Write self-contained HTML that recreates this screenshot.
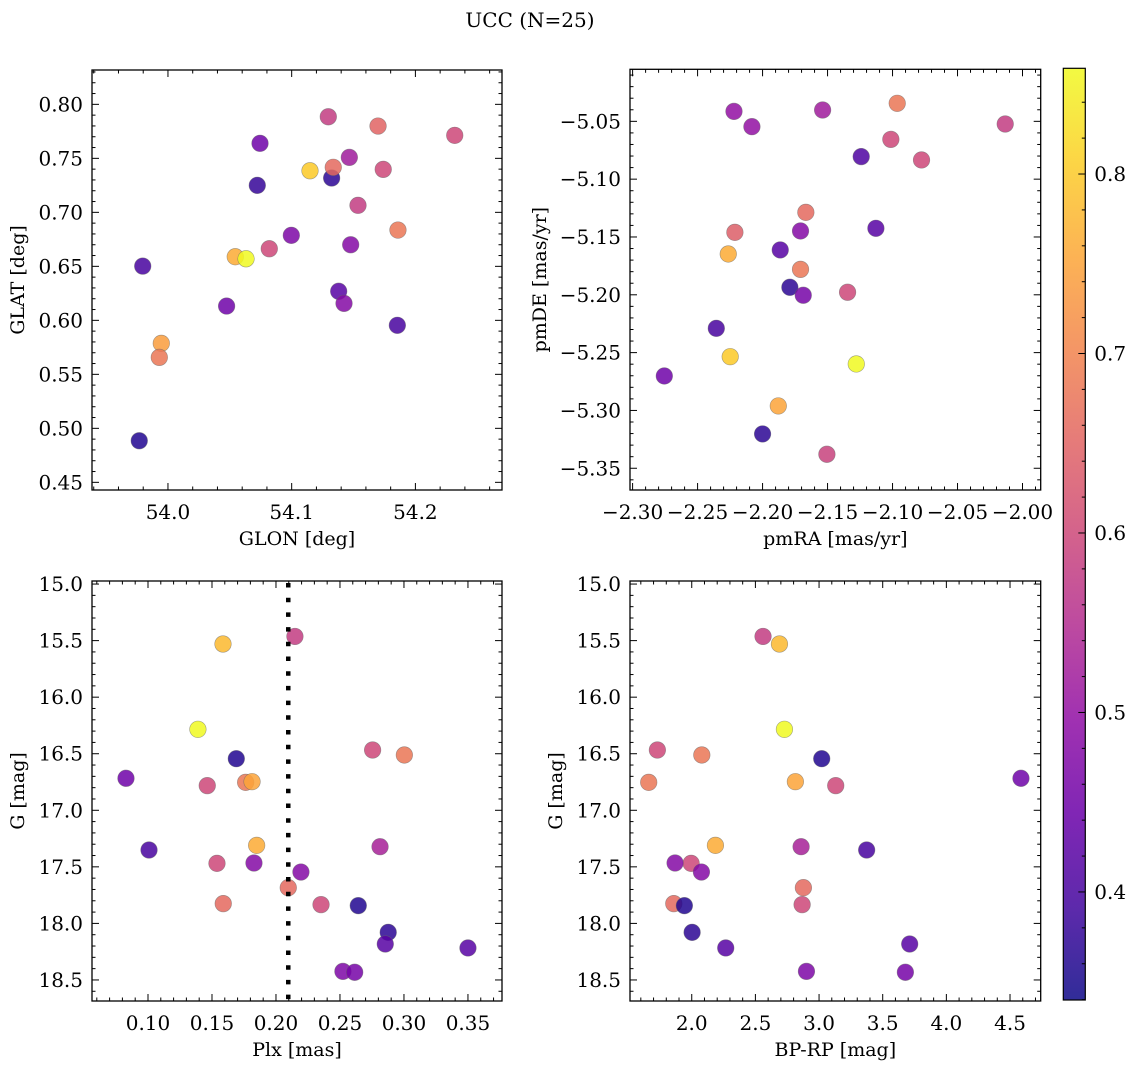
<!DOCTYPE html>
<html><head><meta charset="utf-8"><style>
html,body{margin:0;padding:0;background:#fff;}
svg{display:block;font-family:"DejaVu Serif","Liberation Serif",serif;}
</style></head><body>
<svg id="fig" width="1136" height="1068" viewBox="0 0 1136 1068">
<text x="530" y="27" text-anchor="middle" font-size="20">UCC (N=25)</text>
</svg>
<script>
// ---- data (bottom panels: same stars) ----
const plx  = [0.0828,0.1008,0.139,0.1586,0.1463,0.169,0.1763,0.1813,0.1539,0.1828,0.1849,0.1588,0.2148,0.2096,0.2195,0.2352,0.2643,0.2755,0.3003,0.2813,0.2877,0.2854,0.35,0.2523,0.2615];
const gmag = [16.717,17.351,16.284,15.530,16.782,16.544,16.753,16.747,17.469,17.466,17.31,17.825,15.463,17.684,17.546,17.834,17.843,16.467,16.511,17.322,18.079,18.182,18.217,18.424,18.432];
const bprp = [4.586,3.374,2.728,2.689,3.131,3.021,1.662,2.814,1.995,1.869,2.186,1.859,2.560,2.877,2.076,2.867,1.942,1.730,2.079,2.859,2.003,3.712,2.267,2.901,3.678];
const cBottom = [0.45,0.40,0.86,0.78,0.6,0.36,0.68,0.75,0.6,0.48,0.76,0.66,0.58,0.66,0.48,0.6,0.36,0.6,0.68,0.53,0.37,0.42,0.42,0.47,0.46];
// ---- top-left ----
const glon = [53.9768,53.9796,54.0474,54.0544,54.0631,54.0819,53.9946,53.993,54.0722,54.0744,54.0997,54.1148,54.1296,54.1323,54.1336,54.1466,54.1536,54.1477,54.138,54.1423,54.1698,54.174,54.1859,54.1854,54.2318];
const glat = [0.4885,0.6502,0.6132,0.6589,0.657,0.6663,0.5787,0.5657,0.725,0.7639,0.6787,0.7385,0.7885,0.7318,0.7417,0.7509,0.7065,0.67,0.6269,0.6157,0.7799,0.7398,0.6836,0.5954,0.7713];
const cTL  = [0.36,0.40,0.45,0.76,0.86,0.6,0.74,0.68,0.38,0.45,0.47,0.8,0.58,0.37,0.66,0.52,0.58,0.48,0.42,0.48,0.65,0.6,0.68,0.40,0.6];
// ---- top-right ----
const pmra = [-2.2756,-2.2356,-2.222,-2.2082,-2.2213,-2.2264,-2.2249,-2.1864,-2.179,-2.1708,-2.1667,-2.1708,-2.1687,-2.1879,-2.2,-2.1538,-2.1505,-2.1346,-2.1279,-2.1241,-2.1128,-2.1013,-2.0964,-2.0777,-2.0133];
const pmde = [-5.2702,-5.229,-5.0414,-5.0546,-5.146,-5.1647,-5.2535,-5.1612,-5.1935,-5.1448,-5.1287,-5.178,-5.2004,-5.2961,-5.3203,-5.0402,-5.3379,-5.1978,-5.2598,-5.0805,-5.1425,-5.0656,-5.0344,-5.0834,-5.0523];
const cTR  = [0.45,0.40,0.5,0.5,0.64,0.76,0.8,0.42,0.37,0.48,0.66,0.68,0.46,0.75,0.37,0.52,0.59,0.6,0.86,0.41,0.42,0.6,0.68,0.6,0.58];
const plxLine = 0.2096;
// ---- ticks ----
const tlXTicks = ["54.0","54.1","54.2"];
const tlYTicks = ["0.45","0.50","0.55","0.60","0.65","0.70","0.75","0.80"];
const trXTicks = ["-2.30","-2.25","-2.20","-2.15","-2.10","-2.05","-2.00"];
const trYTicks = ["-5.35","-5.30","-5.25","-5.20","-5.15","-5.10","-5.05"];
const blXTicks = ["0.10","0.15","0.20","0.25","0.30","0.35"];
const gTicks   = ["15.0","15.5","16.0","16.5","17.0","17.5","18.0","18.5"];
const brXTicks = ["2.0","2.5","3.0","3.5","4.0","4.5"];
const cbTicks  = ["0.4","0.5","0.6","0.7","0.8"];
const vmin = 0.3398, vmax = 0.8589;

const NS = "http://www.w3.org/2000/svg";
const svg = document.getElementById("fig");
function mk(tag, attrs, parent){ const e=document.createElementNS(NS,tag); for(const k in attrs) e.setAttribute(k,attrs[k]); (parent||svg).appendChild(e); return e; }
const plasmaStops = ["#0d0887","#41049d","#6a00a8","#8f0da4","#b12a90","#cc4778","#e16462","#f2844b","#fca636","#fcce25","#f0f921"];
function hex(h){return [parseInt(h.slice(1,3),16),parseInt(h.slice(3,5),16),parseInt(h.slice(5,7),16)];}
function plasma(t){ t=Math.max(0,Math.min(1,t)); const f=t*10, i=Math.min(9,Math.floor(f)), r=f-i; const a=hex(plasmaStops[i]), b=hex(plasmaStops[i+1]); return "rgb("+a.map((v,k)=>Math.round(v+(b[k]-v)*r)).join(",")+")"; }
function cmap(v){ return plasma((v-vmin)/(vmax-vmin)); }
const fmt = s => s.replace("-","\u2212");
const TF = 20, LF = 19;

function panel(name, box, xd, yd, xt, yt, xs, ys, cs, xlabel, ylabel){
  const g = mk("g",{},svg);
  
  
  const X = v => box.x0 + (v-xd[0])/(xd[1]-xd[0])*(box.x1-box.x0);
  const Y = v => box.y0 + (v-yd[0])/(yd[1]-yd[0])*(box.y1-box.y0);
  const tg = mk("g",{stroke:"#000","stroke-width":1},g);
  
  
  function axisTicks(labels, isX){
    const vals = labels.map(Number), step = vals[1]-vals[0], ms = step/5;
    const d = isX ? xd : yd, lo=Math.min(d[0],d[1]), hi=Math.max(d[0],d[1]);
    for(let k=Math.ceil(lo/ms-1e-6); k*ms<=hi+1e-9; k++){
      const v=k*ms; const major = Math.abs(v/step-Math.round(v/step))<1e-4; const L = major?7:3.5;
      if(isX){ const p=X(v); mk("line",{x1:p,x2:p,y1:box.y1,y2:box.y1-L},tg); mk("line",{x1:p,x2:p,y1:box.y0,y2:box.y0+L},tg); }
      else { const p=Y(v); mk("line",{y1:p,y2:p,x1:box.x0,x2:box.x0+L},tg); mk("line",{y1:p,y2:p,x1:box.x1,x2:box.x1-L},tg); }
    }
    labels.forEach(s=>{ const v=Number(s);
      const t = isX ? mk("text",{x:X(v),y:box.y1+29,"text-anchor":"middle","font-size":TF},g)
                    : mk("text",{x:box.x0-9,y:Y(v)+7,"text-anchor":"end","font-size":TF},g);
      t.textContent = fmt(s);
      
      
    });
  }
  axisTicks(xt,true); axisTicks(yt,false);
  xs.forEach((v,i)=>{
    const c = mk("circle",{cx:X(v),cy:Y(ys[i]),r:8.3,fill:cmap(cs[i]),"fill-opacity":0.85,stroke:"#666","stroke-opacity":0.6,"stroke-width":0.6},g);
    
    
  });
  const fr = mk("rect",{x:box.x0,y:box.y0,width:box.x1-box.x0,height:box.y1-box.y0,fill:"none",stroke:"#000","stroke-width":1.3},g);
  
  
  const xl = mk("text",{x:(box.x0+box.x1)/2,y:box.y1+55,"text-anchor":"middle","font-size":LF},g);
  xl.textContent = xlabel;
  
  
  const yx = box.ylx, yy=(box.y0+box.y1)/2;
  const yl = mk("text",{x:yx,y:yy,"text-anchor":"middle","font-size":LF,transform:"rotate(-90 "+yx+" "+yy+")"},g);
  yl.textContent = ylabel;
  
  
  return {X,Y};
}

panel("glon-glat-panel",{x0:92,x1:502,y0:70,y1:490,ylx:24},[53.9386,54.270],[0.8318,0.4429],tlXTicks,tlYTicks,glon,glat,cTL,"GLON [deg]","GLAT [deg]");
panel("pm-panel",{x0:630,x1:1040.7,y0:69.3,y1:490,ylx:546},[-2.302,-1.986],[-5.005,-5.3688],trXTicks,trYTicks,pmra,pmde,cTR,"pmRA [mas/yr]","pmDE [mas/yr]");
const bl = panel("plx-g-panel",{x0:92,x1:502,y0:581,y1:1001,ylx:24},[0.05625,0.3766],[14.973,18.686],blXTicks,gTicks,plx,gmag,cBottom,"Plx [mas]","G [mag]");
panel("cmd-panel",{x0:630,x1:1040.7,y0:581,y1:1001,ylx:562},[1.515,4.741],[14.973,18.686],brXTicks,gTicks,bprp,gmag,cBottom,"BP-RP [mag]","G [mag]");

const dl = mk("line",{x1:bl.X(plxLine),x2:bl.X(plxLine),y1:583,y2:1001,stroke:"#000","stroke-width":4.5,"stroke-dasharray":"4.5 10.2"});



const cb = {x0:1063.3,x1:1085.3,y0:68.3,y1:1000};
const defs = mk("defs",{});
const grad = mk("linearGradient",{id:"pl",x1:0,y1:1,x2:0,y2:0},defs);
for(let i=0;i<=10;i++) mk("stop",{offset:(i/10),"stop-color":plasmaStops[i]},grad);
const cbg = mk("g",{});


mk("rect",{x:cb.x0,y:cb.y0,width:cb.x1-cb.x0,height:cb.y1-cb.y0,fill:"url(#pl)","fill-opacity":0.85},cbg);
const CY = v => cb.y1 - (v-vmin)/(vmax-vmin)*(cb.y1-cb.y0);
for(let k=Math.ceil(vmin/0.02); k*0.02<=vmax; k++){
  const v=k*0.02, major=(k%5===0), p=CY(v);
  mk("line",{x1:cb.x1,x2:cb.x1-(major?7:3.5),y1:p,y2:p,stroke:"#000","stroke-width":1},cbg);
}
cbTicks.forEach(s=>{ const t=mk("text",{x:cb.x1+9,y:CY(Number(s))+7,"font-size":TF},cbg); t.textContent=s;
  
   });
mk("rect",{x:cb.x0,y:cb.y0,width:cb.x1-cb.x0,height:cb.y1-cb.y0,fill:"none",stroke:"#000","stroke-width":1.2},cbg);
</script>
</body></html>
